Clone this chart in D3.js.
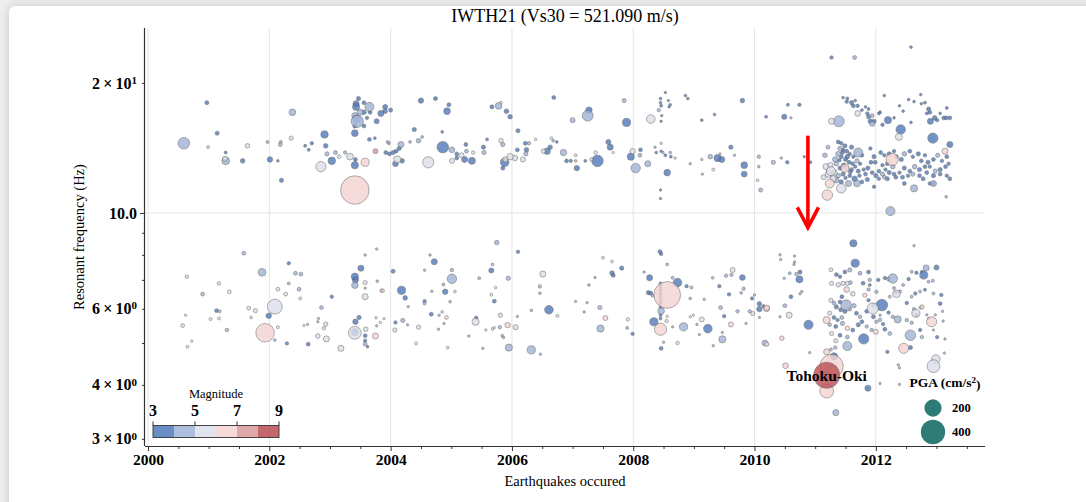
<!DOCTYPE html>
<html>
<head>
<meta charset="utf-8">
<script src="https://cdn.jsdelivr.net/npm/d3@7"></script>
<style>
  html, body { margin: 0; padding: 0; background: #ededed; overflow: hidden; }
  #card { position: absolute; left: 9px; top: 6px; width: 1110px; height: 530px; background: #fff;
          border-radius: 6px; box-shadow: 0 0 9px rgba(0,0,0,0.16); }
  svg { position: absolute; left: 0; top: 0; }
  text { font-family: "Liberation Serif", "Times New Roman", serif; fill: #000; }
</style>
</head>
<body>
<div id="card"></div>
<svg id="chart" width="1086" height="502"></svg>
<script>
// Each event: [decimal year, resonant frequency (Hz), magnitude, PGA (cm/s^2)]

// Higher-frequency peak, 2000 - 2004
const upperEarly = [
  [2000.97,18.0,3.6,11],[2000.59,14.5,4.3,90],[2000.99,14.2,6.3,6],[2001.14,15.3,3.7,11],
  [2001.28,13.8,3.6,6],[2001.28,13.2,4.5,40],[2001.27,13.35,5.3,17],[2001.56,13.2,3.9,14],
  [2001.64,14.3,5.8,14],[2001.97,14.6,4.5,6],[2002.01,13.3,3.8,20],[2002.14,13.2,3.8,5],
  [2002.20,11.9,3.6,12],[2002.38,17.1,4.9,30],[2002.36,14.9,5.0,12],[2002.18,14.4,4.8,10],
  [2002.19,14.6,4.5,6],[2002.59,14.3,3.8,6],[2002.65,14.0,3.8,6],[2002.70,14.5,3.7,8],
  [2002.85,12.8,5.8,70],[2002.91,15.2,3.8,38],[2002.93,14.3,3.9,14],[2002.95,13.7,4.6,12],
  [2003.03,13.2,3.8,38],[2003.09,13.8,4.5,10],[2003.15,13.5,5.0,10],[2003.25,13.8,4.4,8],
  [2003.33,13.5,5.0,30],[2003.42,13.3,3.8,10],[2003.41,12.9,3.8,35],[2003.58,13.1,6.0,45],
  [2003.41,11.3,6.8,545],[2003.41,15.3,3.7,30],[2003.45,16.3,4.8,100],[2003.43,17.9,3.8,25],
  [2003.47,18.4,3.8,12],[2003.56,18.0,3.8,10],[2003.43,17.6,3.9,34],[2003.65,17.6,4.4,55],
  [2003.50,17.1,4.3,25],[2003.56,17.1,3.7,14],[2003.41,16.8,4.4,25],[2003.44,16.5,4.5,40],
  [2003.66,17.1,3.8,10],[2003.61,16.6,3.8,8],[2003.77,16.3,3.7,17],[2003.56,15.9,3.8,10],
  [2003.41,15.9,3.8,12],[2003.84,17.0,3.8,25],[2003.91,17.6,3.9,17],[2003.91,17.2,3.7,14],
  [2004.00,17.3,3.6,11],[2003.65,14.8,3.8,10],[2003.74,14.9,3.9,5],[2003.75,13.9,7.2,17],
  [2003.95,14.6,4.8,6],[2003.97,14.5,4.6,6],[2003.92,13.8,3.7,10],[2003.98,13.7,3.8,10],
  [2004.04,13.8,3.9,12],[2004.09,13.9,3.8,10],[2004.14,14.1,3.8,12],[2004.11,13.3,5.2,35],
  [2004.08,13.0,3.8,22],[2004.19,13.2,3.9,14],[2004.17,14.4,4.6,25],[2004.32,14.6,4.5,5],
  [2004.39,15.6,3.8,12],[2004.46,14.7,4.6,14],[2004.52,15.0,4.4,5],[2004.50,18.2,3.7,20],
  [2004.74,18.4,3.7,11],[2004.62,13.1,5.3,84]
];

// Higher-frequency peak, 2005 - 2010
const upperMid = [
  [2004.96,17.8,3.8,11],[2004.93,17.2,3.8,30],[2004.85,15.4,3.8,5],[2004.86,14.2,3.9,90],
  [2005.01,14.0,4.4,22],[2005.09,13.7,3.8,10],[2005.09,13.4,3.7,10],[2005.17,13.6,5.5,17],
  [2005.22,13.3,3.8,25],[2005.01,13.2,5.2,17],[2005.24,14.4,3.7,10],[2005.25,13.9,4.2,10],
  [2005.34,13.2,3.8,34],[2005.36,13.8,5.0,8],[2005.53,14.2,3.8,12],[2005.54,13.8,4.2,12],
  [2005.59,14.8,3.8,6],[2005.67,17.6,3.8,11],[2005.78,17.7,4.4,30],[2005.82,18.0,6.2,5],
  [2005.91,17.2,3.7,14],[2005.97,16.7,3.8,14],[2005.82,14.7,5.0,14],[2005.85,14.4,4.2,12],
  [2005.88,13.1,3.8,50],[2005.89,13.3,6.6,20],[2005.97,13.5,5.6,28],[2005.85,12.7,3.7,11],
  [2006.10,15.5,3.8,11],[2006.09,14.0,3.7,10],[2006.05,13.4,5.3,20],[2006.18,13.3,5.0,17],
  [2006.22,14.5,3.9,10],[2006.28,14.5,4.2,8],[2006.24,14.0,3.8,14],[2006.23,13.7,4.3,12],
  [2006.39,14.8,5.0,5],[2006.52,13.9,5.2,14],[2006.58,13.9,3.6,28],[2006.63,14.2,3.7,14],
  [2006.65,14.9,5.0,5],[2006.68,14.7,4.9,5],[2006.74,14.6,3.8,5],[2006.69,18.5,3.7,10],
  [2006.85,13.8,4.4,28],[2006.90,13.2,3.7,10],[2006.97,13.2,3.8,8],[2007.05,13.6,6.0,6],
  [2007.05,13.2,7.0,5],[2007.07,12.7,3.8,20],[2007.21,13.2,3.9,6],[2007.31,13.3,5.0,8],
  [2007.25,16.8,4.7,80],[2007.27,17.3,3.7,28],[2007.00,16.4,4.6,17],[2007.38,13.8,5.2,8],
  [2007.41,13.2,3.8,90],[2007.59,14.6,3.8,17],[2007.62,14.2,3.9,25],[2007.67,13.8,5.0,4],
  [2007.85,18.2,4.3,11],[2007.89,16.2,3.8,45],[2007.99,13.9,5.2,20],[2007.96,13.5,3.6,35],
  [2008.04,12.7,4.8,60],[2008.12,14.0,3.8,10],[2008.11,13.6,4.1,10],[2008.24,13.0,4.6,25],
  [2008.29,16.5,5.7,50],[2008.36,14.2,4.2,4],[2008.38,13.8,3.7,5],[2008.46,14.5,5.0,4],
  [2008.46,13.9,3.8,4],[2008.49,13.8,4.3,4],[2008.53,13.6,3.8,6],[2008.61,13.8,4.8,5],
  [2008.62,13.5,3.7,6],[2008.69,13.4,6.1,4],[2008.56,12.4,3.9,30],[2008.45,11.3,3.8,4],
  [2008.45,10.8,3.8,4],[2008.45,18.4,3.6,5],[2008.45,18.0,3.6,5],[2008.46,17.7,3.7,6],
  [2008.53,19.0,3.8,4],[2008.58,18.2,3.6,4],[2008.61,17.8,3.6,5],[2008.59,17.6,3.7,4],
  [2008.42,17.3,4.4,8],[2008.47,16.8,3.6,4],[2008.46,16.3,3.6,4],[2008.86,18.7,3.7,5],
  [2008.90,18.4,3.7,5],[2009.13,16.4,3.8,5],[2009.34,16.9,3.8,5],[2009.13,13.3,4.2,4],
  [2009.14,12.3,4.2,4],[2008.94,13.0,4.6,4],[2009.27,13.5,4.4,14],[2009.32,12.6,5.2,6],
  [2009.39,13.4,3.6,35],[2009.46,13.3,3.7,25],[2009.43,13.7,6.2,4],[2009.61,14.2,3.8,12],
  [2009.67,13.6,4.5,4],[2009.80,18.2,3.6,14],[2009.83,12.9,3.7,30],[2009.83,12.3,3.6,24],
  [2010.07,13.5,4.5,8],[2010.07,12.8,4.6,5],[2010.05,11.9,5.0,5],[2010.10,11.3,4.6,11],
  [2010.19,16.7,3.8,6]
];

// Higher-frequency peak, 2010 - 2013 (sparse part)
const upperLate = [
  [2011.27,22.9,3.8,8],[2011.65,22.9,4.4,10],[2012.58,24.2,3.8,5],[2010.55,17.8,3.8,6],
  [2010.74,17.8,3.8,8],[2010.49,16.7,3.9,18],[2010.60,16.6,4.0,4],[2010.31,13.1,4.8,12],
  [2010.44,13.4,4.8,4],[2010.54,13.1,3.7,8],[2010.82,13.5,3.8,4],[2010.92,13.1,3.8,6],
  [2011.39,16.3,4.7,80],[2011.27,16.3,5.0,25],[2011.71,13.8,4.7,55],[2011.49,12.7,6.3,45],
  [2011.24,11.7,6.3,55],[2011.20,11.0,6.5,75],[2011.43,11.4,5.2,60],[2011.26,12.5,5.5,55],
  [2012.27,13.3,6.3,100],[2012.41,15.6,3.8,60],[2012.38,15.0,5.0,34],[2012.20,16.4,3.8,34],
  [2012.94,14.9,3.8,70],[2013.14,13.9,6.1,25],[2013.22,14.4,3.7,25],[2012.90,16.3,3.9,25],
  [2012.89,17.1,3.7,10],[2012.97,16.6,3.8,14],[2013.16,16.6,3.8,10],[2013.22,16.6,3.8,10],
  [2012.63,11.4,4.8,34],[2012.95,11.7,4.8,25],[2013.16,10.9,4.5,5],[2012.24,10.1,4.7,55],
  [2012.74,18.8,3.8,5],[2011.53,18.4,3.7,6],[2011.66,18.2,3.7,5],[2011.70,17.7,3.8,8],
  [2011.88,17.4,3.7,6],[2011.94,16.8,4.2,10],[2012.07,17.1,3.7,6],[2012.14,18.7,3.7,5],
  [2012.39,17.7,3.7,5],[2012.54,18.3,3.7,5],[2012.63,18.1,3.7,5],[2012.81,18.0,3.7,6],
  [2012.87,17.4,3.9,12],[2013.06,17.0,3.7,5],[2013.17,17.5,3.7,6],[2011.46,18.5,3.7,5],
  [2011.52,18.1,3.7,8],[2011.60,18.0,3.9,12],[2011.63,17.7,3.7,10],[2011.70,17.0,5.0,22],
  [2011.77,17.3,3.7,6],[2011.83,17.6,3.7,5],[2011.86,17.0,3.7,8],[2011.88,16.7,3.8,12],
  [2011.91,16.3,3.7,14],[2011.94,16.1,4.2,20],[2011.97,16.3,3.6,12],[2012.05,17.0,3.7,6],
  [2012.11,16.0,3.8,8],[2012.75,17.9,3.7,5],[2012.84,17.0,3.7,6],[2013.01,16.4,3.7,8],
  [2013.12,16.6,3.9,10],[2012.45,17.2,3.7,5],[2012.30,16.6,3.7,5],[2012.58,16.2,3.7,5],
  [2011.22,12.3,5.3,30],[2011.30,12.0,5.0,25],[2011.25,12.9,5.4,20],[2011.33,13.3,4.8,20],
  [2011.16,13.6,4.6,14],[2011.18,12.8,5.2,25],[2011.14,12.1,5.0,17],[2011.21,14.2,4.4,10]
];

// Higher-frequency peak, dense aftershock sequence 2011.3 - 2012.2
const upperClusterA = [
  [2011.38,14.6,3.7,10],[2011.43,14.5,3.6,8],[2011.49,14.3,3.9,12],[2011.41,14.1,4.4,14],
  [2011.46,14.0,3.6,8],[2011.52,13.9,3.7,10],[2011.60,14.2,3.9,12],[2011.57,13.7,3.6,8],
  [2011.38,13.7,4.6,17],[2011.43,13.5,3.7,10],[2011.50,13.3,3.6,12],[2011.56,13.1,3.9,10],
  [2011.63,13.5,3.6,8],[2011.69,13.2,4.4,12],[2011.74,13.0,3.7,8],[2011.77,13.6,3.6,10],
  [2011.35,13.0,4.8,14],[2011.41,12.7,3.9,12],[2011.52,12.7,5.0,12],[2011.60,12.6,3.7,10],
  [2011.66,12.8,3.6,8],[2011.71,12.5,3.9,12],[2011.80,12.6,3.7,8],[2011.32,12.4,5.2,20],
  [2011.38,12.2,4.4,14],[2011.46,12.3,3.7,12],[2011.57,12.2,3.9,10],[2011.65,12.0,3.8,20],
  [2011.73,12.2,3.6,8],[2011.83,12.3,3.9,10],[2011.35,11.9,4.8,20],[2011.43,11.8,3.9,12],
  [2011.55,11.7,4.4,25],[2011.69,11.7,4.6,30],[2011.77,11.8,3.7,10],[2011.86,11.95,3.9,12],
  [2011.94,12.4,3.7,10],[2012.00,12.2,3.9,12],[2012.05,12.5,3.7,10],[2012.11,12.3,4.4,12],
  [2012.16,12.6,3.7,8],[2011.87,12.7,3.9,12],[2011.92,13.1,3.7,10],[2011.97,13.5,3.9,12],
  [2011.91,14.1,3.7,8],[2011.45,13.8,3.6,10],[2011.53,13.5,3.8,14],[2011.47,12.9,3.7,12],
  [2011.62,13.0,3.6,10],[2011.40,13.25,3.8,8],[2011.58,12.45,3.7,10],[2011.50,12.05,3.8,8]
];

// Higher-frequency peak, 2012 - 2013 band
const upperClusterB = [
  [2012.08,13.8,3.7,10],[2012.14,13.6,3.9,8],[2012.22,13.7,3.7,12],[2012.30,13.9,3.6,8],
  [2012.34,13.5,3.9,10],[2012.42,13.3,3.7,12],[2012.47,13.7,4.4,14],[2012.56,13.9,3.7,10],
  [2012.61,13.5,3.6,8],[2012.70,13.7,3.9,12],[2012.75,13.2,3.7,10],[2012.81,13.6,3.9,8],
  [2012.86,13.1,3.6,12],[2012.95,13.3,3.7,10],[2013.02,13.6,4.4,12],[2013.09,13.2,3.7,8],
  [2013.17,13.5,3.9,10],[2013.20,13.0,3.7,8],[2013.15,12.8,3.9,10],[2013.06,12.6,3.7,12],
  [2012.98,12.5,4.4,12],[2012.89,12.8,3.7,8],[2012.81,12.8,3.9,10],[2012.72,12.6,3.7,12],
  [2012.64,12.8,4.6,14],[2012.56,12.5,3.7,10],[2012.47,12.7,3.9,12],[2012.39,12.4,3.7,8],
  [2012.30,12.3,3.9,10],[2012.22,12.4,3.7,12],[2012.14,12.1,4.4,10],[2012.05,12.0,3.7,8],
  [2012.19,12.0,3.9,12],[2012.33,12.1,3.7,10],[2012.44,12.1,3.9,10],[2012.53,12.2,3.7,8],
  [2012.61,12.3,4.4,12],[2012.72,12.2,3.7,10],[2012.84,12.4,3.9,10],[2012.95,12.2,3.7,12],
  [2013.06,12.3,3.9,10],[2013.17,12.2,3.7,8],[2013.22,12.0,3.9,10],[2012.28,12.8,4.6,14],
  [2012.19,13.0,3.7,10],[2012.11,12.9,3.9,8],[2011.99,13.1,3.7,10],[2012.78,12.0,3.9,10],
  [2012.89,11.7,3.7,8],[2012.47,11.7,3.9,10],[2011.97,11.5,3.7,8],[2012.95,11.7,3.9,8]
];

// Lower-frequency peak, 2000 - 2004
const lowerEarly = [
  [2001.58,8.07,4.3,10],[2000.64,7.12,5.0,8],[2001.17,6.87,5.0,8],[2001.34,6.57,5.0,10],
  [2000.90,6.49,4.4,10],[2001.88,7.29,4.6,40],[2001.13,5.94,3.8,10],[2001.18,5.92,4.0,6],
  [2001.03,5.68,5.2,6],[2001.17,5.70,5.0,6],[2000.62,5.80,6.5,4],[2000.57,5.49,5.0,10],
  [2000.72,5.05,5.2,4],[2000.65,4.90,5.2,6],[2001.30,5.36,4.3,8],[2001.66,6.02,5.2,10],
  [2001.70,5.73,5.0,5],[2001.77,5.94,5.4,12],[2002.09,6.07,5.2,150],[2001.93,5.28,6.2,230],
  [2001.99,5.78,3.9,20],[2002.14,5.44,5.0,6],[2002.09,5.08,4.4,5],[2002.29,4.99,3.9,8],
  [2002.32,7.65,3.9,8],[2002.43,7.25,4.3,10],[2002.52,7.22,4.4,10],[2002.14,6.66,5.0,10],
  [2002.32,6.87,4.4,6],[2002.27,6.49,5.0,10],[2002.49,6.66,4.3,10],[2002.51,6.34,6.3,6],
  [2002.64,4.97,3.8,10],[2002.57,5.49,5.0,4],[2002.63,5.52,4.5,4],[2002.80,5.19,5.2,14],
  [2002.90,5.41,6.3,8],[2002.93,5.53,5.2,12],[2002.94,5.11,5.0,25],[2002.81,5.70,4.4,4],
  [2002.80,5.60,4.5,4],[2002.86,6.04,4.4,10],[2003.03,6.40,3.9,8],[2003.18,4.86,5.2,25],
  [2003.41,5.28,5.0,110],[2003.41,5.30,3.8,35],[2003.41,7.12,3.8,35],[2003.42,7.00,3.8,25],
  [2003.41,6.80,4.8,28],[2003.51,7.45,3.8,25],[2003.58,7.99,4.0,4],[2003.77,8.25,4.0,4],
  [2003.58,6.90,5.0,12],[2003.58,6.70,4.2,4],[2003.58,6.40,5.2,25],[2003.42,5.60,3.8,20],
  [2003.48,5.73,3.9,12],[2003.59,5.38,5.2,14],[2003.58,5.20,3.9,10],[2003.58,5.06,3.9,8],
  [2003.58,4.97,4.3,10],[2003.62,4.90,3.8,5],[2003.75,5.19,6.3,25],[2003.76,5.72,6.3,4],
  [2003.85,6.61,6.0,8],[2003.87,6.61,6.2,8],[2003.78,6.95,4.2,5],[2003.77,5.48,4.4,4],
  [2003.83,5.58,5.0,4],[2003.89,5.69,5.0,4],[2004.04,7.33,3.7,11],[2004.18,6.62,3.9,45],
  [2004.24,6.36,3.8,14],[2004.08,5.58,3.9,8],[2004.20,5.64,4.2,12],[2004.07,5.36,5.2,12],
  [2004.28,5.51,4.8,4],[2004.29,6.07,4.8,4],[2004.46,5.44,5.2,12],[2004.42,4.99,5.5,6],
  [2004.56,7.37,4.6,4],[2004.65,7.99,4.5,4],[2004.56,6.25,3.9,8],[2004.56,6.17,4.2,6],
  [2004.68,6.59,4.2,4],[2004.67,5.83,3.8,10],[2004.72,7.71,3.8,25]
];

// Lower-frequency peak, 2005 - 2010
const lowerMid = [
  [2005.01,7.38,4.4,8],[2005.01,7.04,4.8,60],[2004.90,6.57,3.9,20],[2004.87,6.83,4.2,6],
  [2005.06,6.58,5.0,5],[2004.98,6.23,4.2,5],[2004.85,5.90,5.0,5],[2004.80,5.80,4.4,4],
  [2004.92,5.73,6.4,10],[2004.88,5.55,4.4,4],[2004.79,5.38,4.5,4],[2004.94,4.88,6.4,5],
  [2005.29,5.19,4.8,4],[2005.40,5.60,5.0,35],[2005.41,5.72,3.9,8],[2005.52,4.86,4.5,4],
  [2005.46,7.06,4.2,6],[2005.66,7.36,3.7,17],[2005.68,7.60,4.4,5],[2005.75,8.54,4.8,14],
  [2005.71,6.25,3.7,10],[2005.66,6.47,6.1,6],[2005.73,6.72,5.0,5],[2005.57,5.36,6.0,4],
  [2005.68,5.39,6.1,5],[2005.81,5.80,6.3,12],[2005.80,5.44,4.3,8],[2005.71,5.43,5.0,4],
  [2005.84,5.20,4.2,5],[2005.86,5.15,4.2,5],[2005.93,5.50,6.2,20],[2005.94,7.06,4.8,12],
  [2005.95,4.88,4.6,35],[2006.06,5.44,5.4,18],[2006.10,8.13,3.9,8],[2006.09,5.76,4.5,4],
  [2006.32,5.95,4.4,5],[2006.32,4.82,4.6,45],[2006.47,4.71,4.5,4],[2006.51,7.22,5.0,25],
  [2006.46,6.76,4.2,8],[2006.46,6.52,4.4,5],[2006.61,5.97,3.6,50],[2006.75,5.78,5.2,6],
  [2007.05,6.24,4.4,4],[2007.24,6.20,4.4,4],[2007.19,5.90,4.6,4],[2007.27,6.81,4.4,5],
  [2007.37,7.09,4.4,4],[2007.45,6.04,4.2,12],[2007.46,5.40,4.5,35],[2007.54,5.71,6.3,17],
  [2007.50,7.88,5.2,6],[2007.65,7.72,5.0,5],[2007.65,7.26,3.8,14],[2007.67,7.17,3.8,10],
  [2007.81,7.45,3.8,12],[2007.91,5.67,5.6,8],[2007.90,5.42,4.2,6],[2007.99,5.25,3.9,8],
  [2008.18,7.30,4.5,4],[2008.27,7.08,3.8,25],[2008.25,6.54,3.7,12],[2008.29,6.52,3.8,10],
  [2008.32,6.43,4.5,5],[2008.44,8.14,3.7,10],[2008.46,8.04,3.7,8],[2008.56,7.60,4.5,5],
  [2008.56,6.46,6.8,480],[2008.45,6.87,3.6,6],[2008.45,6.75,3.6,6],[2008.45,6.63,3.7,6],
  [2008.45,6.51,3.6,6],[2008.45,6.40,3.7,6],[2008.45,6.28,3.6,6],[2008.45,6.17,3.7,6],
  [2008.45,6.06,3.6,6],[2008.46,5.93,4.6,30],[2008.45,5.80,3.6,6],[2008.45,5.70,3.7,6],
  [2008.34,5.60,3.6,45],[2008.45,5.38,6.6,100],[2008.50,5.02,4.2,4],[2008.46,4.86,3.9,10],
  [2008.55,5.62,5.0,8],[2008.56,5.76,5.0,4],[2008.65,7.08,4.4,6],[2008.73,6.90,3.6,50],
  [2008.88,6.77,3.9,8],[2008.96,6.72,4.2,6],[2008.94,6.34,4.4,5],[2008.83,5.45,4.8,45],
  [2008.73,5.00,5.4,8],[2008.65,5.45,4.6,4],[2008.94,5.75,5.2,4],[2008.99,5.80,5.2,4],
  [2009.05,5.52,7.1,4],[2009.09,5.23,4.6,4],[2009.13,5.67,5.6,17],[2009.17,6.31,4.6,4],
  [2009.23,5.40,3.6,50],[2009.31,7.08,4.6,5],[2009.32,4.93,4.8,4],[2009.42,6.77,3.9,8],
  [2009.44,6.04,4.2,10],[2009.47,5.10,4.9,35],[2009.47,5.29,4.4,4],[2009.50,5.77,3.9,8],
  [2009.53,7.16,4.3,8],[2009.62,7.19,4.3,8],[2009.64,7.38,5.5,17],[2009.58,6.48,3.8,8],
  [2009.61,5.52,6.3,17],[2009.80,7.09,3.7,22],[2009.82,6.68,4.2,8],[2009.78,6.53,4.4,5],
  [2009.72,5.92,4.3,8],[2009.86,5.55,4.4,4],[2009.92,5.92,4.3,8],[2009.97,5.85,5.5,12],
  [2009.96,6.34,3.9,8],[2010.00,6.46,4.6,4],[2010.08,6.16,3.7,14],[2010.15,6.08,3.8,8],
  [2010.08,5.99,3.7,20],[2010.20,6.00,6.1,22],[2010.17,5.00,4.8,22],[2010.08,5.73,4.6,4]
];

// Lower-frequency peak, 2010 - 2013
const lowerLate = [
  [2011.63,8.51,3.8,35],[2012.63,8.40,4.6,4],[2010.42,8.00,4.4,4],[2010.43,7.80,4.4,4],
  [2010.66,7.95,4.5,4],[2010.66,7.70,4.5,4],[2010.65,7.60,4.5,4],[2010.75,7.30,3.8,12],
  [2010.69,7.22,4.4,8],[2010.74,7.02,3.8,34],[2010.49,7.06,4.6,4],[2010.58,7.25,4.2,6],
  [2010.78,6.58,4.4,4],[2010.75,6.50,4.4,4],[2010.60,6.40,3.8,10],[2010.50,6.10,4.4,10],
  [2010.20,6.03,6.2,22],[2010.57,5.80,5.0,25],[2010.42,5.75,4.6,4],[2010.89,5.51,3.6,56],
  [2010.45,5.13,6.0,14],[2010.20,4.97,5.2,14],[2010.51,4.43,6.2,22],[2010.91,4.75,4.4,4],
  [2011.26,7.39,5.0,10],[2011.35,7.20,3.9,10],[2011.41,7.12,3.7,8],[2011.49,7.30,3.9,10],
  [2011.57,7.38,4.2,12],[2011.66,7.65,3.8,45],[2011.74,7.25,4.2,10],[2011.88,7.30,3.9,10],
  [2011.90,7.00,4.2,8],[2011.79,6.88,3.7,10],[2011.38,6.82,5.0,14],[2011.46,6.87,5.2,12],
  [2011.53,6.87,5.0,12],[2011.58,6.90,4.8,10],[2011.27,6.87,5.0,12],[2011.52,6.65,6.4,22],
  [2011.62,6.50,5.0,14],[2011.44,6.40,3.7,10],[2011.26,6.28,5.0,12],[2011.31,6.19,4.4,10],
  [2011.35,6.06,3.9,12],[2011.41,6.22,3.7,10],[2011.51,6.12,4.7,75],[2011.42,5.97,3.9,10],
  [2011.49,5.92,3.7,12],[2011.57,5.99,4.2,10],[2011.64,6.10,4.4,12],[2011.68,5.86,3.7,10],
  [2011.24,5.86,5.2,12],[2011.31,5.73,3.9,10],[2011.37,5.65,3.7,8],[2011.44,5.73,4.2,10],
  [2011.19,5.65,6.6,34],[2011.24,5.51,4.2,8],[2011.34,5.46,3.7,10],[2011.45,5.55,4.2,12],
  [2011.53,5.41,6.2,14],[2011.62,5.36,3.7,10],[2011.71,5.51,3.6,12],[2011.27,5.26,5.0,12],
  [2011.41,5.21,3.9,10],[2011.53,5.16,4.2,10],[2011.34,5.06,5.0,12],[2011.53,4.92,4.7,56],
  [2011.33,4.88,4.4,8],[2011.26,4.83,4.4,6],[2011.19,4.77,6.3,25],[2011.31,4.66,3.8,34],
  [2011.80,5.11,3.8,70],[2011.74,5.75,4.2,8],[2011.77,5.60,3.7,10],[2011.85,5.46,4.2,8],
  [2011.93,5.36,4.4,8],[2011.82,6.45,6.2,12],[2011.88,6.28,3.9,8],[2011.96,6.12,4.2,8],
  [2011.85,5.92,3.9,10],[2011.96,5.75,3.7,10],[2012.01,5.60,4.2,8],[2011.95,6.01,5.1,84],
  [2012.10,6.12,3.7,90],[2012.01,6.57,4.2,8],[2012.04,7.00,3.9,8],[2012.15,7.07,3.7,8],
  [2012.21,7.03,4.2,10],[2012.28,7.05,4.6,60],[2011.88,6.65,4.2,8],[2011.90,6.81,3.9,6],
  [2012.07,5.66,4.2,8],[2012.12,5.53,3.7,8],[2012.00,5.31,6.2,17],[2012.07,5.80,4.4,4],
  [2012.21,5.88,3.9,8],[2012.28,5.75,4.4,8],[2012.23,6.40,4.2,6],[2012.33,6.55,3.9,8],
  [2012.40,6.58,4.2,6],[2012.30,6.70,4.4,6],[2012.34,6.50,5.0,40],[2012.15,5.38,3.9,10],
  [2012.23,5.26,4.2,10],[2012.19,4.77,3.9,8],[2012.36,5.67,4.8,34],[2012.37,4.45,4.6,4],
  [2012.39,4.38,4.6,4],[2012.46,4.86,6.2,70],[2012.57,5.21,4.9,75],[2012.57,4.88,3.7,12],
  [2012.76,5.16,4.4,8],[2012.73,5.36,3.9,8],[2012.51,5.65,4.2,8],[2012.59,5.57,4.4,8],
  [2012.67,5.80,3.9,8],[2012.63,5.99,4.2,8],[2012.74,6.04,4.4,6],[2012.66,5.86,5.0,44],
  [2012.76,6.06,6.0,12],[2012.92,5.60,6.7,70],[2012.51,6.19,3.9,8],[2012.59,6.40,4.2,6],
  [2012.65,6.51,3.7,8],[2012.73,6.58,4.2,6],[2012.81,6.64,3.9,6],[2012.45,6.81,4.4,6],
  [2012.54,7.03,3.9,8],[2012.59,7.31,4.2,6],[2012.67,7.27,3.7,8],[2012.76,7.31,3.8,6],
  [2012.79,7.18,3.9,44],[2012.83,7.46,4.7,25],[2013.00,7.48,3.7,17],[2012.94,6.97,4.2,6],
  [2012.87,6.93,4.4,6],[2013.08,6.46,3.9,8],[2012.95,6.51,4.2,6],[2013.06,6.17,3.7,10],
  [2013.10,5.92,4.4,4],[2013.11,5.62,4.4,4],[2012.98,5.81,4.4,4],[2012.87,5.70,4.6,4],
  [2012.84,5.81,4.4,4],[2012.95,5.36,4.4,4],[2013.01,5.16,3.9,8],[2013.14,5.11,4.4,4],
  [2012.99,4.59,5.0,50],[2012.95,4.42,5.0,110],[2013.13,4.74,4.6,4],[2012.39,4.01,4.6,4],
  [2012.07,4.03,4.6,4],[2011.87,3.93,3.9,25],[2011.34,3.45,4.2,25],[2011.19,3.87,6.2,130],
  [2011.27,4.42,6.8,370],[2011.19,4.21,9.0,460]
];

// Axis ticks and legend values
const yearTicks = [2000, 2002, 2004, 2006, 2008, 2010, 2012];
const halfYearTicks = [2000.5, 2001, 2001.5, 2002.5, 2003, 2003.5, 2004.5, 2005, 2005.5, 2006.5,
                       2007, 2007.5, 2008.5, 2009, 2009.5, 2010.5, 2011, 2011.5, 2012.5, 2013, 2013.5];
const freqMajorTicks = [10];
const freqMinorTicks = [3, 4, 5, 6, 7, 8, 9, 20];
const freqTickLabels = [
  { v: 20, base: "2\u2009\u00D7\u200910", exp: "1" },
  { v: 10, base: "10.0", exp: null },
  { v: 6, base: "6\u2009\u00D7\u200910", exp: "0" },
  { v: 4, base: "4\u2009\u00D7\u200910", exp: "0" },
  { v: 3, base: "3\u2009\u00D7\u200910", exp: "0" }
];
const magnitudeBins = [3, 4, 5, 6, 7, 8, 9];
const magnitudeColors = ["#5079bb", "#a0b3d7", "#dcdfe9", "#f3d4d2", "#d99a9c", "#bb4d53"];
const magnitudeTicks = [3, 5, 7, 9];
const pgaLegendValues = [200, 400];

const stationTitle = "IWTH21 (Vs30 = 521.090 m/s)";
const mainshock = { label: "Tohoku-Oki", year: 2011.19, freq: 4.21 };
const arrowMark = { year: 2010.88, fromFreq: 15.1, toFreq: 9.25, headFreq: 10.3, headHalfWidth: 0.175 };

// ---------------------------------------------------------------
const svg = d3.select("#chart");
const FONT = '"Liberation Serif", "Times New Roman", serif';

const plot = { left: 145, right: 985, top: 28, bottom: 446 };

const x = d3.scaleLinear().domain([1999.95, 2013.8]).range([plot.left, plot.right]);
const y = d3.scaleLog().domain([2.888, 26.8]).range([plot.bottom, plot.top]);
const r = d3.scaleSqrt().domain([0, 400]).range([0, 12.2]);
const color = d3.scaleThreshold().domain(magnitudeBins.slice(1, -1)).range(magnitudeColors);

const events = [...upperEarly, ...upperMid, ...upperLate, ...upperClusterA, ...upperClusterB,
                ...lowerEarly, ...lowerMid, ...lowerLate]
  .map(([year, freq, mag, pga]) => ({ year, freq, mag, pga }))
  .sort((a, b) => a.mag - b.mag);

// Grid
const grid = svg.append("g");
grid.selectAll("line.vx").data(yearTicks).join("line")
  .attr("x1", d => x(d)).attr("x2", d => x(d))
  .attr("y1", plot.top).attr("y2", plot.bottom)
  .attr("stroke", "#e5e5e5").attr("stroke-width", 1);
grid.selectAll("line.hy").data(freqMajorTicks).join("line")
  .attr("x1", plot.left).attr("x2", plot.right)
  .attr("y1", d => y(d)).attr("y2", d => y(d))
  .attr("stroke", "#e5e5e5").attr("stroke-width", 1);

// Bubbles
svg.append("g").selectAll("circle").data(events).join("circle")
  .attr("cx", d => x(d.year))
  .attr("cy", d => y(d.freq))
  .attr("r", d => r(d.pga))
  .attr("fill", d => color(d.mag))
  .attr("stroke", "#5a5a5a")
  .attr("stroke-width", 0.6)
  .attr("opacity", 0.8);

// Axes
const axisColor = "#333";
const xAxis = svg.append("g").attr("transform", `translate(0,${plot.bottom})`)
  .call(d3.axisBottom(x).tickValues(yearTicks).tickSize(5).tickSizeOuter(0).tickPadding(3)
        .tickFormat(d3.format("d")));
xAxis.select(".domain").attr("d", `M${plot.left},0.5H${plot.right}`);
const xMinor = svg.append("g").attr("transform", `translate(0,${plot.bottom})`)
  .call(d3.axisBottom(x).tickValues(halfYearTicks).tickSize(3).tickFormat(""));
xMinor.select(".domain").remove();

const yAxis = svg.append("g").attr("transform", `translate(${plot.left},0)`)
  .call(d3.axisLeft(y).tickValues(freqMajorTicks).tickSize(5).tickSizeOuter(0).tickFormat(""));
yAxis.select(".domain").attr("d", `M-0.5,${plot.top}V${plot.bottom}`);
const yMinor = svg.append("g").attr("transform", `translate(${plot.left},0)`)
  .call(d3.axisLeft(y).tickValues(freqMinorTicks).tickSize(3).tickFormat(""));
yMinor.select(".domain").remove();

[xAxis, xMinor, yAxis, yMinor].forEach(g => {
  g.selectAll(".domain").attr("stroke", axisColor).attr("stroke-width", 1.2);
  g.selectAll(".tick line").attr("stroke", axisColor).attr("stroke-width", 1);
});
xAxis.selectAll(".tick text")
  .attr("font-family", FONT).attr("font-size", 15.5).attr("font-weight", "bold").attr("fill", "#000");

// Frequency tick labels with exponents
const yLab = svg.append("g");
freqTickLabels.forEach(t => {
  const tx = yLab.append("text")
    .attr("x", plot.left - 8).attr("y", y(t.v))
    .attr("dy", "0.35em").attr("text-anchor", "end")
    .attr("font-family", FONT).attr("font-size", 16).attr("font-weight", "bold");
  tx.append("tspan").text(t.base);
  if (t.exp) {
    tx.append("tspan").attr("dy", "-0.45em").attr("font-size", 11).text(t.exp);
  }
});

// Titles
svg.append("text").attr("x", (plot.left + plot.right) / 2).attr("y", 22)
  .attr("text-anchor", "middle").attr("font-family", FONT).attr("font-size", 18)
  .text(stationTitle);
svg.append("text").attr("x", (plot.left + plot.right) / 2).attr("y", 486)
  .attr("text-anchor", "middle").attr("font-family", FONT).attr("font-size", 14.5)
  .text("Earthquakes occured");
svg.append("text")
  .attr("transform", `translate(84,${(plot.top + plot.bottom) / 2}) rotate(-90)`)
  .attr("text-anchor", "middle").attr("font-family", FONT).attr("font-size", 14.5)
  .text("Resonant frequency (Hz)");

// Arrow pointing at the mainshock date
const ax = x(arrowMark.year);
svg.append("line")
  .attr("x1", ax).attr("x2", ax)
  .attr("y1", y(arrowMark.fromFreq)).attr("y2", y(arrowMark.toFreq) - 2)
  .attr("stroke", "#ff0000").attr("stroke-width", 3.6);
svg.append("path")
  .attr("d", `M${x(arrowMark.year - arrowMark.headHalfWidth)},${y(arrowMark.headFreq)}` +
             `L${ax},${y(arrowMark.toFreq)}` +
             `L${x(arrowMark.year + arrowMark.headHalfWidth)},${y(arrowMark.headFreq)}`)
  .attr("fill", "none").attr("stroke", "#ff0000").attr("stroke-width", 3.6)
  .attr("stroke-linejoin", "miter");

// Mainshock label
svg.append("text")
  .attr("x", x(mainshock.year)).attr("y", y(mainshock.freq))
  .attr("dy", "0.35em").attr("text-anchor", "middle")
  .attr("font-family", FONT).attr("font-size", 15.5).attr("font-weight", "bold")
  .text(mainshock.label);

// Magnitude colour bar
const cb = { x0: 153, x1: 279, top: 425.5, h: 12 };
const mx = d3.scaleLinear().domain([3, 9]).range([cb.x0, cb.x1]);
const cbar = svg.append("g");
cbar.selectAll("rect").data(magnitudeColors).join("rect")
  .attr("x", (d, i) => mx(magnitudeBins[i]))
  .attr("y", cb.top)
  .attr("width", (d, i) => mx(magnitudeBins[i + 1]) - mx(magnitudeBins[i]))
  .attr("height", cb.h)
  .attr("fill", d => d).attr("opacity", 0.85);
cbar.append("rect").attr("x", cb.x0).attr("y", cb.top).attr("width", cb.x1 - cb.x0).attr("height", cb.h)
  .attr("fill", "none").attr("stroke", "#333").attr("stroke-width", 0.9);
cbar.selectAll("line.t").data(magnitudeTicks).join("line")
  .attr("x1", d => mx(d)).attr("x2", d => mx(d))
  .attr("y1", cb.top - 4).attr("y2", cb.top)
  .attr("stroke", "#333").attr("stroke-width", 1);
cbar.selectAll("text.t").data(magnitudeTicks).join("text")
  .attr("x", d => mx(d)).attr("y", cb.top - 10)
  .attr("text-anchor", "middle").attr("font-family", FONT)
  .attr("font-size", 16).attr("font-weight", "bold").text(d => d);
cbar.append("text").attr("x", (cb.x0 + cb.x1) / 2).attr("y", 398)
  .attr("text-anchor", "middle").attr("font-family", FONT).attr("font-size", 12.5)
  .text("Magnitude");

// PGA size legend
const pgaLeg = svg.append("g");
const pgaTitle = pgaLeg.append("text").attr("x", 945).attr("y", 387)
  .attr("text-anchor", "middle").attr("font-family", FONT).attr("font-size", 13.5).attr("font-weight", "bold");
pgaTitle.append("tspan").text("PGA (cm/s");
pgaTitle.append("tspan").attr("dy", "-0.45em").attr("font-size", 9).text("2");
pgaTitle.append("tspan").attr("dy", "0.45em").text(")");
const legendRows = [408, 432];
pgaLegendValues.forEach((v, i) => {
  pgaLeg.append("circle").attr("cx", 933).attr("cy", legendRows[i]).attr("r", r(v))
    .attr("fill", "#2e7b78");
  pgaLeg.append("text").attr("x", 952).attr("y", legendRows[i]).attr("dy", "0.35em")
    .attr("font-family", FONT).attr("font-size", 12.5).attr("font-weight", "bold").text(v);
});
</script>
</body>
</html>
